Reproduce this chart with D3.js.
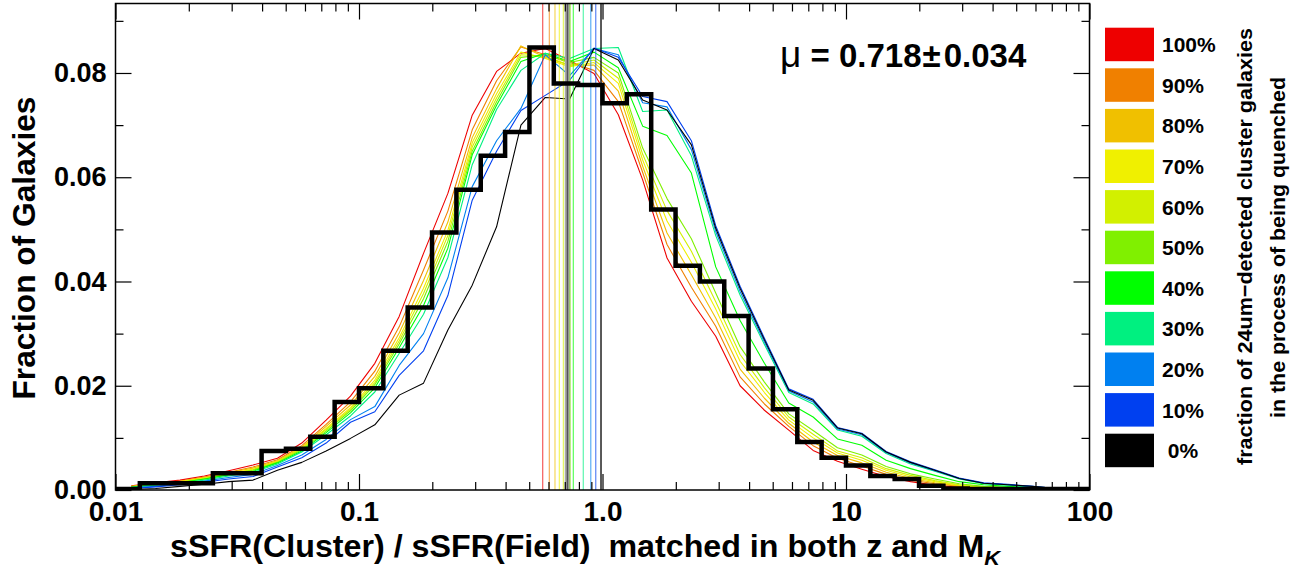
<!DOCTYPE html>
<html><head><meta charset="utf-8">
<script src="https://cdn.jsdelivr.net/npm/d3@7"></script>
<style>
body{margin:0;background:#fff}
text{font-family:"Liberation Sans",Arial,Helvetica,sans-serif;font-weight:bold;fill:#000}
</style>
</head><body>
<svg id="chart" width="1305" height="573"></svg>
<script>
// ---------------- data ----------------
const binEdgesLog = [-2.0,-1.9,-1.8,-1.7,-1.6,-1.5,-1.4,-1.3,-1.2,-1.1,-1.0,-0.9,-0.8,-0.7,-0.6,-0.5,-0.4,-0.3,-0.2,-0.1,0.0,0.1,0.2,0.3,0.4,0.5,0.6,0.7,0.8,0.9,1.0,1.1,1.2,1.3,1.4,1.5,1.6,1.7,1.8,1.9,2.0];
const histValues = [0.0002,0.0013,0.0013,0.0013,0.0032,0.0032,0.0075,0.0079,0.0102,0.0169,0.0195,0.0267,0.0350,0.0494,0.0576,0.0641,0.0687,0.0849,0.0780,0.0777,0.0742,0.0759,0.0538,0.0430,0.0400,0.0334,0.0233,0.0155,0.0092,0.0062,0.0047,0.0027,0.0021,0.0008,0.0003,0.0002,0.0002,0.0002,0.0002,0.0002];

const curveLogX = [-1.935,-1.835,-1.735,-1.635,-1.535,-1.435,-1.335,-1.235,-1.135,-1.035,-0.935,-0.835,-0.735,-0.635,-0.535,-0.435,-0.335,-0.235,-0.135,-0.035,0.065,0.165,0.265,0.365,0.465,0.565,0.665,0.765,0.865,0.965,1.065,1.165,1.265,1.365,1.465,1.565,1.665,1.765,1.865,1.965];

const curve100 = [0.0008,0.0014,0.0019,0.0027,0.0037,0.0048,0.0061,0.0090,0.0134,0.0180,0.0243,0.0333,0.0454,0.0569,0.0719,0.0803,0.0838,0.0847,0.0824,0.0799,0.0720,0.0595,0.0445,0.0362,0.0295,0.0200,0.0153,0.0115,0.0076,0.0055,0.0040,0.0026,0.0016,0.0009,0.0005,0.0003,0.0002,0.0001,0.0001,0.0000];
const curve90 = [0.0007,0.0013,0.0017,0.0025,0.0034,0.0044,0.0058,0.0085,0.0126,0.0169,0.0228,0.0313,0.0422,0.0535,0.0691,0.0785,0.0850,0.0835,0.0820,0.0805,0.0745,0.0609,0.0471,0.0389,0.0314,0.0217,0.0165,0.0122,0.0085,0.0061,0.0046,0.0030,0.0019,0.0012,0.0007,0.0004,0.0003,0.0002,0.0001,0.0000];
const curve80 = [0.0007,0.0012,0.0016,0.0024,0.0033,0.0042,0.0056,0.0082,0.0122,0.0163,0.0218,0.0301,0.0402,0.0514,0.0676,0.0770,0.0852,0.0830,0.0815,0.0815,0.0765,0.0621,0.0493,0.0413,0.0330,0.0232,0.0176,0.0128,0.0092,0.0066,0.0052,0.0034,0.0022,0.0014,0.0008,0.0005,0.0003,0.0002,0.0001,0.0000];
const curve70 = [0.0006,0.0011,0.0016,0.0023,0.0031,0.0040,0.0055,0.0080,0.0118,0.0158,0.0211,0.0292,0.0387,0.0498,0.0666,0.0760,0.0840,0.0828,0.0812,0.0820,0.0780,0.0633,0.0516,0.0437,0.0347,0.0247,0.0187,0.0134,0.0100,0.0071,0.0057,0.0038,0.0025,0.0016,0.0009,0.0006,0.0004,0.0002,0.0001,0.0001];
const curve60 = [0.0006,0.0011,0.0015,0.0022,0.0030,0.0039,0.0054,0.0079,0.0116,0.0155,0.0206,0.0286,0.0377,0.0488,0.0658,0.0752,0.0835,0.0832,0.0815,0.0825,0.0790,0.0644,0.0536,0.0458,0.0361,0.0260,0.0196,0.0140,0.0107,0.0075,0.0062,0.0041,0.0028,0.0018,0.0010,0.0006,0.0004,0.0003,0.0002,0.0001];
const curve50 = [0.0006,0.0010,0.0015,0.0021,0.0030,0.0038,0.0053,0.0077,0.0113,0.0152,0.0202,0.0280,0.0367,0.0477,0.0650,0.0745,0.0830,0.0835,0.0820,0.0830,0.0800,0.0656,0.0559,0.0482,0.0378,0.0275,0.0207,0.0146,0.0114,0.0081,0.0067,0.0045,0.0031,0.0021,0.0012,0.0007,0.0005,0.0003,0.0002,0.0001];
const curve40 = [0.0005,0.0010,0.0014,0.0021,0.0029,0.0036,0.0052,0.0075,0.0110,0.0148,0.0196,0.0273,0.0354,0.0464,0.0643,0.0738,0.0822,0.0838,0.0822,0.0840,0.0810,0.0698,0.0680,0.0608,0.0428,0.0325,0.0243,0.0167,0.0140,0.0098,0.0086,0.0057,0.0041,0.0028,0.0016,0.0010,0.0007,0.0005,0.0002,0.0001];
const curve30 = [0.0005,0.0009,0.0013,0.0019,0.0027,0.0034,0.0050,0.0073,0.0106,0.0142,0.0188,0.0262,0.0337,0.0446,0.0624,0.0730,0.0805,0.0838,0.0828,0.0847,0.0849,0.0726,0.0729,0.0641,0.0488,0.0374,0.0279,0.0187,0.0165,0.0115,0.0103,0.0070,0.0050,0.0036,0.0021,0.0012,0.0009,0.0006,0.0003,0.0001];
const curve20 = [0.0004,0.0007,0.0012,0.0017,0.0024,0.0030,0.0047,0.0067,0.0097,0.0135,0.0160,0.0239,0.0300,0.0407,0.0582,0.0670,0.0732,0.0835,0.0795,0.0847,0.0835,0.0743,0.0735,0.0653,0.0496,0.0381,0.0284,0.0190,0.0169,0.0117,0.0106,0.0072,0.0052,0.0037,0.0022,0.0013,0.0010,0.0007,0.0003,0.0001];
const curve10 = [0.0003,0.0006,0.0010,0.0015,0.0021,0.0026,0.0044,0.0062,0.0090,0.0130,0.0150,0.0220,0.0267,0.0373,0.0556,0.0650,0.0728,0.0757,0.0786,0.0848,0.0830,0.0755,0.0745,0.0670,0.0507,0.0391,0.0291,0.0194,0.0174,0.0120,0.0109,0.0074,0.0054,0.0039,0.0023,0.0014,0.0011,0.0007,0.0003,0.0001];
const curve0 = [0.0001,0.0003,0.0007,0.0011,0.0016,0.0019,0.0038,0.0053,0.0075,0.0099,0.0125,0.0182,0.0205,0.0307,0.0393,0.0505,0.0700,0.0753,0.0750,0.0847,0.0825,0.0748,0.0729,0.0662,0.0502,0.0387,0.0288,0.0192,0.0172,0.0119,0.0108,0.0073,0.0053,0.0038,0.0022,0.0013,0.0010,0.0007,0.0003,0.0001];

const seriesLabels = ["100%","90%","80%","70%","60%","50%","40%","30%","20%","10%"," 0%"];
const seriesColors = ["#EE0000","#F08000","#F0C000","#F0F000","#D2F000","#80F000","#00FF00","#00F080","#0080F0","#0040F0","#000000"];
const seriesMedians = [0.568,0.605,0.638,0.665,0.691,0.736,0.759,0.834,0.895,0.938,0.986];
const muValue = 0.718, muError = 0.034;
const muBandLo = 0.700, muBandHi = 0.737;

const xMajorTicks = [0.01,0.1,1,10,100];
const xTickLabels = ["0.01","0.1","1.0","10","100"];
const yMajorTicks = [0,0.02,0.04,0.06,0.08];
const yTickLabels = ["0.00","0.02","0.04","0.06","0.08"];
const yMinorTicks = [0.01,0.03,0.05,0.07,0.09];

// ---------------- drawing ----------------
const curves = [curve100,curve90,curve80,curve70,curve60,curve50,curve40,curve30,curve20,curve10,curve0];
const svg = d3.select("#chart");
const L = 115.5, R = 1089.5, T = 3.5, B = 490;
const x = d3.scaleLog().domain([0.01,100]).range([L,R]);
const y = d3.scaleLinear().domain([0,0.09333]).range([B,T]);
const lx = v => x(Math.pow(10, v));

svg.append("clipPath").attr("id","pc").append("rect")
  .attr("x",L).attr("y",T).attr("width",R-L).attr("height",B-T);
const plot = svg.append("g").attr("clip-path","url(#pc)");

// colored model curves
const line = d3.line().x((d,i)=>lx(curveLogX[i])).y(d=>y(d));
curves.forEach((c,i)=>{
  plot.append("path").datum(c).attr("d",line)
    .attr("fill","none").attr("stroke",seriesColors[i]).attr("stroke-width",1.1)
    .attr("stroke-linejoin","round");
});

// mean band
plot.append("rect").attr("x",x(muBandLo)).attr("y",T)
  .attr("width",x(muBandHi)-x(muBandLo)).attr("height",B-T).attr("fill","#a8a8a8");
plot.append("line").attr("x1",x(muValue)).attr("x2",x(muValue)).attr("y1",T).attr("y2",B)
  .attr("stroke","#555").attr("stroke-width",1.5);

// median vertical lines
seriesMedians.forEach((m,i)=>{
  plot.append("line").attr("x1",x(m)).attr("x2",x(m)).attr("y1",T).attr("y2",B)
    .attr("stroke",seriesColors[i]).attr("stroke-width",1.3).attr("stroke-opacity",i===10?1:0.6);
});

// histogram
const histPts = histValues.map((v,i)=>[binEdgesLog[i],v]);
histPts.push([binEdgesLog[binEdgesLog.length-1], histValues[histValues.length-1]]);
plot.append("path").datum(histPts)
  .attr("d", d3.line().curve(d3.curveStepAfter).x(d=>lx(d[0])).y(d=>y(d[1])))
  .attr("fill","none").attr("stroke","#000").attr("stroke-width",4.5).attr("stroke-linejoin","miter");

// axes
const xMinor = x.ticks().filter(t=>!xMajorTicks.some(m=>Math.abs(m-t)<1e-9));
function styleAxis(g){ g.select(".domain").remove(); g.selectAll(".tick line").attr("stroke","#000").attr("stroke-width",1.2); }
svg.append("g").attr("transform",`translate(0,${B})`)
  .call(d3.axisBottom(x).tickValues(xMajorTicks).tickSizeInner(-16).tickSizeOuter(0).tickPadding(11)
    .tickFormat((d,i)=>xTickLabels[i]))
  .call(styleAxis).call(g=>g.selectAll("text").attr("font-size",28).attr("dy","0.71em"));
svg.append("g").attr("transform",`translate(0,${B})`)
  .call(d3.axisBottom(x).tickValues(xMinor).tickSizeInner(-8).tickSizeOuter(0).tickFormat(""))
  .call(styleAxis);
svg.append("g").attr("transform",`translate(0,${T})`)
  .call(d3.axisTop(x).tickValues(xMajorTicks).tickSizeInner(-16).tickSizeOuter(0).tickFormat(""))
  .call(styleAxis);
svg.append("g").attr("transform",`translate(0,${T})`)
  .call(d3.axisTop(x).tickValues(xMinor).tickSizeInner(-8).tickSizeOuter(0).tickFormat(""))
  .call(styleAxis);
svg.append("g").attr("transform",`translate(${L},0)`)
  .call(d3.axisLeft(y).tickValues(yMajorTicks).tickSizeInner(-16).tickSizeOuter(0).tickPadding(9)
    .tickFormat((d,i)=>yTickLabels[i]))
  .call(styleAxis).call(g=>g.selectAll("text").attr("font-size",27));
svg.append("g").attr("transform",`translate(${L},0)`)
  .call(d3.axisLeft(y).tickValues(yMinorTicks).tickSizeInner(-8).tickSizeOuter(0).tickFormat(""))
  .call(styleAxis);
svg.append("g").attr("transform",`translate(${R},0)`)
  .call(d3.axisRight(y).tickValues(yMajorTicks).tickSizeInner(-16).tickSizeOuter(0).tickFormat(""))
  .call(styleAxis);
svg.append("g").attr("transform",`translate(${R},0)`)
  .call(d3.axisRight(y).tickValues(yMinorTicks).tickSizeInner(-8).tickSizeOuter(0).tickFormat(""))
  .call(styleAxis);
svg.selectAll(".tick text").style("font-family",'"Liberation Sans",Arial,sans-serif').style("font-weight","bold").attr("fill","#000");

// frame
svg.append("rect").attr("x",L).attr("y",T).attr("width",R-L).attr("height",B-T)
  .attr("fill","none").attr("stroke","#000").attr("stroke-width",1.5);

// titles
svg.append("text").attr("transform","translate(35,248) rotate(-90)").attr("text-anchor","middle")
  .attr("font-size",32).attr("textLength",303).attr("lengthAdjust","spacingAndGlyphs")
  .text("Fraction of Galaxies");
const xt = svg.append("text").attr("x",170).attr("y",557).attr("font-size",31)
  .attr("textLength",830).attr("lengthAdjust","spacingAndGlyphs");
xt.append("tspan").text("sSFR(Cluster) / sSFR(Field)\u00a0 matched in both z and M");
xt.append("tspan").attr("font-size",21).attr("font-style","italic").attr("dy",8).text("K");

// mu annotation
const mt = svg.append("text").attr("x",780).attr("y",67).attr("font-size",33);
mt.append("tspan").attr("font-weight","normal").attr("font-size",37).text("\u03bc");
mt.append("tspan").text(" = " + muValue.toFixed(3));
mt.append("tspan").attr("dx",1).text("\u00b1");
mt.append("tspan").attr("dx",3).text(muError.toFixed(3));

// legend
const lg = svg.append("g");
seriesLabels.forEach((lab,i)=>{
  const yy = 27.7 + i*40.6;
  lg.append("rect").attr("x",1105).attr("y",yy).attr("width",49).attr("height",33.5).attr("fill",seriesColors[i]);
  lg.append("text").attr("x",1162).attr("y",yy+24.5).attr("font-size",21).style("white-space","pre").text(lab);
});
svg.append("text").attr("transform","translate(1252,246.5) rotate(-90)").attr("text-anchor","middle")
  .attr("font-size",21).attr("textLength",437).attr("lengthAdjust","spacingAndGlyphs")
  .text("fraction of 24um\u2212detected cluster galaxies");
svg.append("text").attr("transform","translate(1285,247.5) rotate(-90)").attr("text-anchor","middle")
  .attr("font-size",21).attr("textLength",341).attr("lengthAdjust","spacingAndGlyphs")
  .text("in the process of being quenched");
</script>
</body></html>
